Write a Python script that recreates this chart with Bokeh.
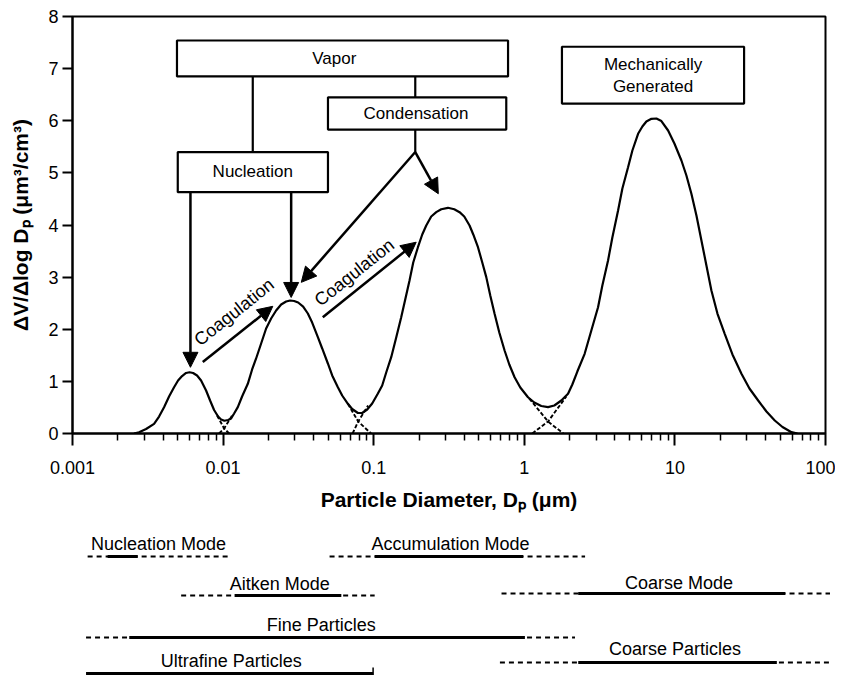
from bokeh.plotting import figure
from bokeh.models import Range1d, FixedTicker, Arrow, NormalHead
from bokeh.layouts import column
from bokeh.embed import file_html
from bokeh.resources import INLINE
from bokeh.core.properties import value

# ---------------- data ----------------
# total volume distribution (particle diameter in um, dV/dlogDp in um^3/cm^3)
diam_um = [0.002562, 0.002766, 0.003080, 0.003480, 0.003757, 0.004055, 0.004377, 0.004725,
           0.005023, 0.005341, 0.005678, 0.005988, 0.006318, 0.006716, 0.007141, 0.007709,
           0.008196, 0.008712, 0.009265, 0.009699, 0.01020, 0.010794, 0.011303, 0.011832,
           0.012521, 0.013368, 0.014590, 0.015584, 0.016566, 0.017889, 0.019306, 0.020840,
           0.022502, 0.024287, 0.026216, 0.027873, 0.02963, 0.03150, 0.034004, 0.036534,
           0.03903, 0.042582, 0.045499, 0.049624, 0.053014, 0.057822, 0.061763, 0.067393,
           0.071944, 0.078524, 0.083862, 0.090534, 0.097724, 0.10663, 0.11389, 0.12108,
           0.13072, 0.14109, 0.15227, 0.16194, 0.17294, 0.18302, 0.19669, 0.21007,
           0.22331, 0.24100, 0.26019, 0.28088, 0.31117, 0.34267, 0.37170, 0.39930,
           0.43302, 0.45825, 0.49250, 0.52592, 0.55908, 0.59434, 0.63490, 0.68234,
           0.73977, 0.79502, 0.86198, 0.94061, 1.0583, 1.1652, 1.2972, 1.4376,
           1.5824, 1.7614, 1.9515, 2.0840, 2.2499, 2.5159, 2.7873, 3.0883,
           3.2985, 3.5982, 3.8433, 4.1943, 4.4799, 4.8865, 5.2204, 5.6949,
           6.0826, 6.4650, 6.9823, 7.5391, 8.1340, 9.0126, 9.9243, 11.047,
           11.923, 12.869, 13.900, 15.002, 16.192, 17.476, 19.159, 21.423,
           24.105, 27.668, 31.261, 35.718, 40.551, 46.034, 51.807, 59.443, 65.163]
dv_dlogdp = [0.0, 0.025, 0.086, 0.186, 0.326, 0.505, 0.710, 0.888,
             1.017, 1.103, 1.161, 1.176, 1.161, 1.113, 1.017, 0.825,
             0.633, 0.451, 0.326, 0.269, 0.244, 0.259, 0.288, 0.384,
             0.505, 0.710, 0.953, 1.228, 1.439, 1.727, 2.014, 2.206,
             2.360, 2.475, 2.532, 2.552, 2.542, 2.513, 2.436, 2.302,
             2.129, 1.847, 1.631, 1.343, 1.113, 0.888, 0.729, 0.570,
             0.470, 0.393, 0.393, 0.460, 0.576, 0.767, 0.921, 1.170,
             1.464, 1.842, 2.231, 2.571, 2.935, 3.281, 3.574, 3.818,
             3.990, 4.163, 4.246, 4.303, 4.330, 4.303, 4.246, 4.163,
             3.990, 3.818, 3.574, 3.281, 3.000, 2.647, 2.296, 1.938,
             1.592, 1.324, 1.080, 0.882, 0.696, 0.595, 0.528, 0.505,
             0.537, 0.633, 0.762, 0.940, 1.189, 1.529, 1.976, 2.423,
             2.839, 3.319, 3.760, 4.278, 4.700, 5.109, 5.429, 5.750,
             5.890, 5.986, 6.037, 6.043, 5.995, 5.813, 5.564, 5.237,
             4.950, 4.599, 4.182, 3.703, 3.223, 2.743, 2.302, 1.913,
             1.516, 1.145, 0.863, 0.633, 0.422, 0.249, 0.125, 0.025, 0.0]

# dashed tails of the individual modes near the minima
tail_nucleation_x = [0.00912, 0.01016, 0.01097]
tail_nucleation_y = [0.345, 0.096, 0.0]
tail_aitken_lo_x = [0.00940, 0.01016, 0.01148]
tail_aitken_lo_y = [0.0, 0.096, 0.345]
tail_aitken_hi_x = [0.0674, 0.0789, 0.0961]
tail_aitken_hi_y = [0.570, 0.230, 0.0]
tail_accum_lo_x = [0.0724, 0.0789, 0.0918]
tail_accum_lo_y = [0.0, 0.230, 0.537]
tail_accum_hi_x = [1.079, 1.438, 1.816]
tail_accum_hi_y = [0.671, 0.230, 0.0]
tail_coarse_x = [1.13, 1.438, 1.90]
tail_coarse_y = [0.0, 0.230, 0.710]

x_ticks = [0.001, 0.01, 0.1, 1, 10, 100]
x_tick_labels = ["0.001", "0.01", "0.1", "1", "10", "100"]
y_ticks = [0, 1, 2, 3, 4, 5, 6, 7, 8]

# size ranges shown under the chart (diameters in um)
range_names = ["Nucleation Mode", "Accumulation Mode", "Aitken Mode", "Coarse Mode",
               "Fine Particles", "Coarse Particles", "Ultrafine Particles"]
range_solid_start = [0.00171, 0.1012, 0.0119, 2.27, 0.00238, 2.27, 0.00123]
range_solid_end = [0.00271, 0.979, 0.0608, 53.7, 1.005, 47.2, 0.0988]
range_dash_start = [0.00126, 0.0508, 0.00526, 0.703, 0.00123, 0.686, None]
range_dash_end = [0.0113, 2.52, 0.1012, 107.0, 2.16, 107.0, None]

FONT = value("Liberation Sans")

# ---------------- main chart ----------------
p = figure(x_axis_type="log", x_range=Range1d(0.001, 100), y_range=Range1d(0, 8),
           frame_width=753, frame_height=417,
           min_border_left=72, min_border_right=10, min_border_top=16, min_border_bottom=88,
           output_backend="svg", toolbar_location=None)
p.grid.grid_line_color = None
p.outline_line_color = "black"
p.outline_line_width = 2
p.background_fill_color = "white"
p.border_fill_color = "white"

p.xaxis.ticker = FixedTicker(ticks=x_ticks,
                             minor_ticks=[m * 10.0 ** e for e in range(-3, 2) for m in range(2, 10)])
p.xaxis.major_label_overrides = dict(zip(x_ticks, x_tick_labels))
p.xaxis.axis_label = "Particle Diameter, Dₚ (μm)"
p.yaxis.ticker = FixedTicker(ticks=y_ticks)
p.yaxis.axis_label = "ΔV/Δlog Dₚ (μm³/cm³)"

for ax in (p.xaxis[0], p.yaxis[0]):
    ax.axis_line_width = 2
    ax.axis_line_color = "black"
    ax.major_tick_line_color = "black"
    ax.major_tick_line_width = 2
    ax.minor_tick_line_color = "black"
    ax.minor_tick_line_width = 1.5
    ax.major_tick_in = 0
    ax.minor_tick_in = 0
    ax.major_label_text_font = "Liberation Sans"
    ax.major_label_text_font_size = "18px"
    ax.major_label_text_color = "black"
    ax.axis_label_text_font = "Liberation Sans"
    ax.axis_label_text_font_style = "bold"
    ax.axis_label_text_color = "black"

p.xaxis.axis_label_text_font_size = "21px"
p.yaxis.axis_label_text_font_size = "21px"
p.xaxis.major_tick_out = 12
p.xaxis.minor_tick_out = 7
p.xaxis.major_label_standoff = 15
p.xaxis.axis_label_standoff = 11
p.yaxis.major_tick_out = 10
p.yaxis.minor_tick_out = 0
p.yaxis.major_label_standoff = 4
p.yaxis.axis_label_standoff = 13

# curve and mode tails
p.line(diam_um, dv_dlogdp, line_color="black", line_width=2.2)
for tx, ty in [(tail_nucleation_x, tail_nucleation_y), (tail_aitken_lo_x, tail_aitken_lo_y),
               (tail_aitken_hi_x, tail_aitken_hi_y), (tail_accum_lo_x, tail_accum_lo_y),
               (tail_accum_hi_x, tail_accum_hi_y), (tail_coarse_x, tail_coarse_y)]:
    p.line(tx, ty, line_color="black", line_width=1.9, line_dash="4 2")

# connector lines of the process diagram
p.segment(x0=[0.01574, 0.1888, 0.1888], y0=[6.85, 6.85, 5.83],
          x1=[0.01574, 0.1888, 0.1888], y1=[5.40, 6.45, 5.40],
          line_color="black", line_width=2.2)

# boxes
p.quad(left=[0.00494, 0.0497, 0.00500, 1.778],
       right=[0.780, 0.759, 0.0497, 28.8],
       top=[7.54, 6.45, 5.40, 7.42],
       bottom=[6.85, 5.83, 4.63, 6.33],
       fill_color="white", line_color="black", line_width=2.2)

p.text(x=[0.0547, 0.191, 0.01574, 7.16, 7.16], y=[7.19, 6.14, 5.02, 7.08, 6.66],
       text=["Vapor", "Condensation", "Nucleation", "Mechanically", "Generated"],
       text_align="center", text_baseline="middle", text_font=FONT,
       text_font_size="17px", text_color="black")

p.text(x=[0.01184, 0.0744], y=[2.33, 3.09], text=["Coagulation", "Coagulation"],
       angle=38.5, angle_units="deg", text_align="center", text_baseline="middle",
       text_font=FONT, text_font_size="18px", text_color="black")

arrows = [
    (0.00607, 4.63, 0.00607, 1.27),   # nucleation -> nucleation mode
    (0.02831, 4.63, 0.02831, 2.61),   # nucleation -> aitken mode
    (0.1888, 5.40, 0.03304, 2.90),    # condensation -> aitken mode
    (0.1888, 5.40, 0.2685, 4.60),     # condensation -> accumulation mode
    (0.00733, 1.37, 0.02138, 2.44),   # coagulation 1
    (0.0459, 2.23, 0.1915, 3.67),     # coagulation 2
]
for xs, ys, xe, ye in arrows:
    p.add_layout(Arrow(end=NormalHead(size=15, fill_color="black", line_color="black", line_width=1),
                       x_start=xs, y_start=ys, x_end=xe, y_end=ye,
                       line_color="black", line_width=2.5))

# ---------------- size ranges below the chart ----------------
ext = 0.03
H2 = 154
p2 = figure(x_axis_type="log", x_range=Range1d(0.001, 10 ** (2 + ext)), y_range=Range1d(H2, 0),
            frame_width=round(753 * (5 + ext) / 5), frame_height=H2,
            min_border_left=72, min_border_right=0, min_border_top=0, min_border_bottom=0,
            x_axis_location=None, y_axis_location=None,
            output_backend="svg", toolbar_location=None)
p2.outline_line_color = None
p2.grid.grid_line_color = None
p2.background_fill_color = "white"
p2.border_fill_color = "white"

row_line_y = [35, 35, 74, 72, 116, 141, 152]
row_text_y = [22, 22, 62, 61, 103, 127, 139]
row_text_x = [0.00372, 0.322, 0.0237, 10.6, 0.0448, 9.97, 0.0113]

dash_idx = [i for i in range(len(range_names)) if range_dash_start[i] is not None]
p2.segment(x0=[range_dash_start[i] for i in dash_idx], x1=[range_dash_end[i] for i in dash_idx],
           y0=[row_line_y[i] for i in dash_idx], y1=[row_line_y[i] for i in dash_idx],
           line_color="black", line_width=1.8, line_dash="5 4")
p2.segment(x0=range_solid_start, x1=range_solid_end, y0=row_line_y, y1=row_line_y,
           line_color="black", line_width=2.8)
p2.segment(x0=[range_solid_end[6]], x1=[range_solid_end[6]], y0=[146], y1=[154],
           line_color="black", line_width=1.5)
p2.text(x=row_text_x, y=row_text_y, text=range_names, text_align="center",
        text_baseline="middle", text_font=FONT, text_font_size="18px", text_color="black")

layout = column(p, p2)
open("out.html", "w").write(file_html(layout, INLINE))
